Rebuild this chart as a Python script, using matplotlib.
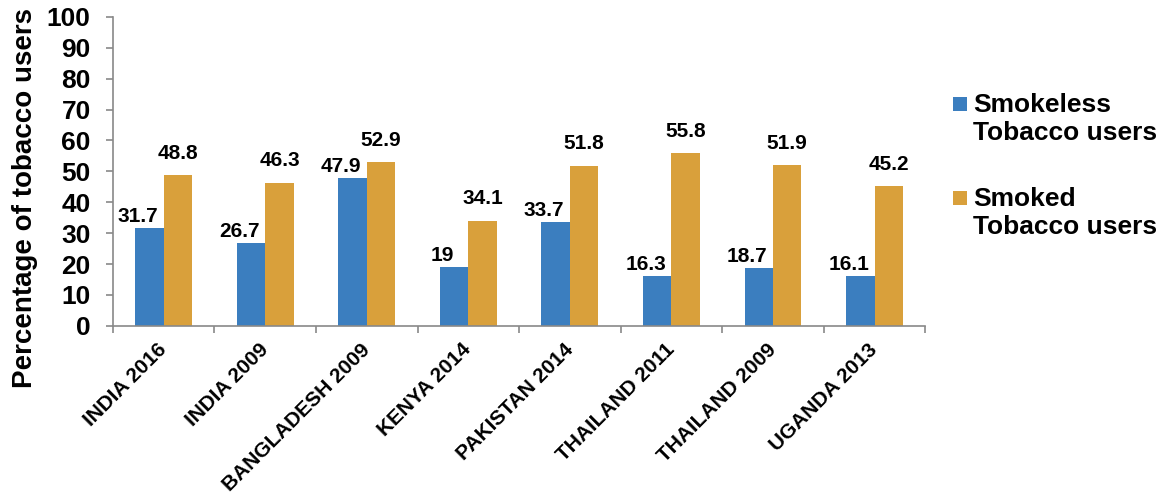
import matplotlib
matplotlib.use("Agg")
import matplotlib.pyplot as plt
from matplotlib.patches import Rectangle
import numpy as np

plt.rcParams['font.family'] = ['Liberation Sans', 'DejaVu Sans']
plt.rcParams['font.weight'] = 'bold'

categories = ["INDIA 2016", "INDIA 2009", "BANGLADESH 2009", "KENYA 2014",
              "PAKISTAN 2014", "THAILAND 2011", "THAILAND 2009", "UGANDA 2013"]
smokeless = [31.7, 26.7, 47.9, 19, 33.7, 16.3, 18.7, 16.1]
smoked = [48.8, 46.3, 52.9, 34.1, 51.8, 55.8, 51.9, 45.2]
labels_smokeless = ["31.7", "26.7", "47.9", "19", "33.7", "16.3", "18.7", "16.1"]
labels_smoked = ["48.8", "46.3", "52.9", "34.1", "51.8", "55.8", "51.9", "45.2"]
series_names = ["Smokeless\nTobacco users", "Smoked\nTobacco users"]

blue = "#3B7EBF"
orange = "#D9A03B"
gray = "#898989"

fig = plt.figure(figsize=(11.64, 4.96), dpi=100)
ax = fig.add_axes([0.097, 0.343, 0.698, 0.623])

x = np.arange(len(categories))
w = 0.28
b1 = ax.bar(x - w/2, smokeless, w, color=blue)
b2 = ax.bar(x + w/2, smoked, w, color=orange)

for rect, t in zip(b1, labels_smokeless):
    ax.annotate(t, (rect.get_x() + rect.get_width()/2, rect.get_height()),
                xytext=(-8.3, 4.3), textcoords='offset points',
                ha='center', va='baseline', fontsize=15, fontweight='bold')
for rect, t in zip(b2, labels_smoked):
    ax.annotate(t, (rect.get_x() + rect.get_width()/2, rect.get_height()),
                xytext=(0, 11.8), textcoords='offset points',
                ha='center', va='baseline', fontsize=15, fontweight='bold')

ax.set_xlim(-0.5, len(categories) - 0.5)
ax.set_ylim(0, 100)
ax.set_yticks(np.arange(0, 101, 10))
ax.tick_params(axis='y', labelsize=19, length=5, color=gray, width=1.2, direction='out', pad=11)
for lab in ax.get_yticklabels():
    lab.set_fontweight('bold')

ax.set_xticks(np.arange(-0.5, len(categories), 1.0))
ax.set_xticklabels([])
ax.tick_params(axis='x', which='major', length=5, color=gray, width=1.2)
ax.set_xticks(x, minor=True)
ax.set_xticklabels(categories, minor=True, rotation=45, ha='right', va='center',
                   rotation_mode='anchor', fontsize=15, fontweight='bold')
ax.tick_params(axis='x', which='minor', length=0, pad=15)

for s in ['top', 'right']:
    ax.spines[s].set_visible(False)
for s in ['left', 'bottom']:
    ax.spines[s].set_color(gray)
    ax.spines[s].set_linewidth(1.2)

ax.set_ylabel("Percentage of tobacco users", fontsize=20, fontweight='bold')
ax.yaxis.set_label_coords(-0.092, 0.413)

# legend (manual, square aligned with first line of each label)
leg_colors = [blue, orange]
leg_tops = [0.8125, 0.622]
sq_bottoms = [0.7762, 0.5867]
for c, name, ty, sb in zip(leg_colors, series_names, leg_tops, sq_bottoms):
    fig.patches.append(Rectangle((0.8187, sb), 0.012, 0.0282, transform=fig.transFigure,
                                 facecolor=c, edgecolor='none'))
    fig.text(0.836, ty, name, ha='left', va='top', fontsize=19, fontweight='bold',
             linespacing=1.2)

fig.savefig("out.png", dpi=100)
